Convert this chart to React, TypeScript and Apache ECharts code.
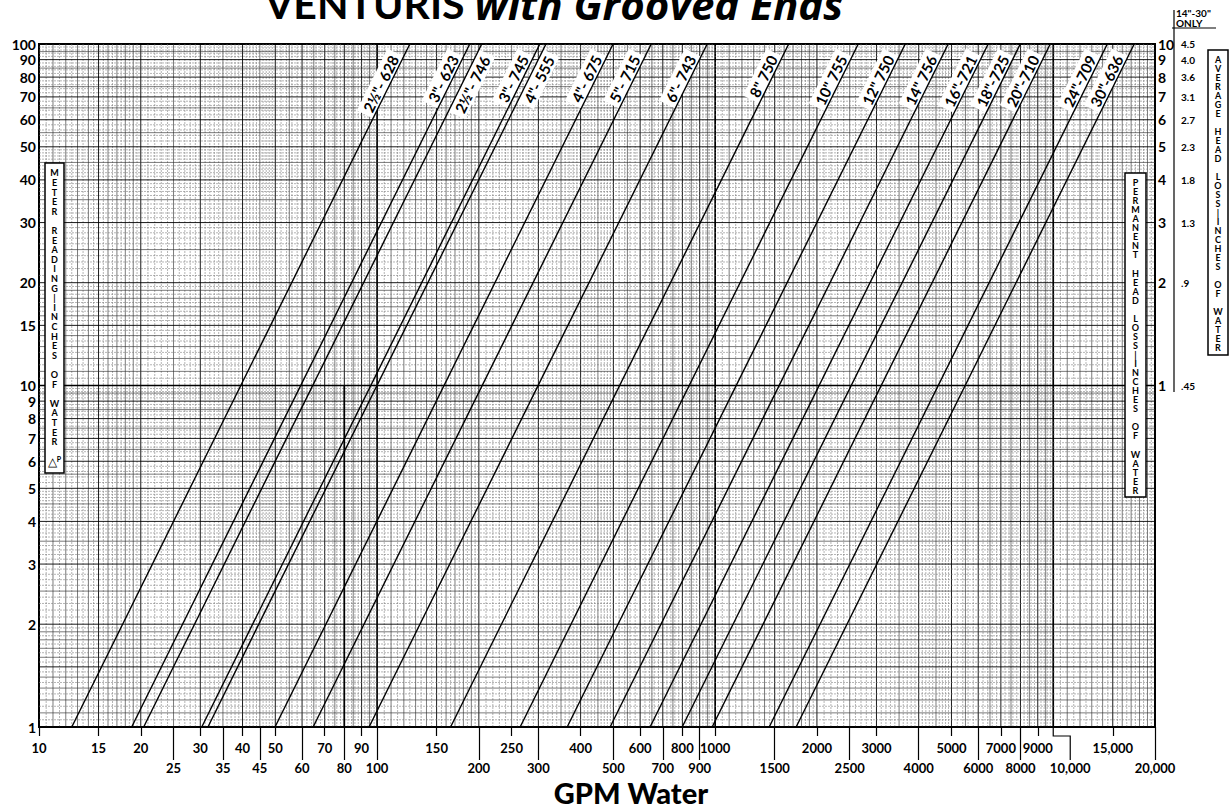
import React, { useEffect, useRef } from "react";
import * as echarts from "echarts";

// ---------- data ----------
const X_MIN = 10;
const X_MAX = 20000;
const Y_MIN = 1;
const Y_MAX = 100;

const sizeLabels = [
  '2½"- 628', '3"- 623', '2½"- 746', '3"- 745', '4"- 555', '4"- 675', '5"- 715', '6"- 743',
  '8" 750', '10" 755', '12" 750', '14" 756', '16"-721', '18"-725', '20"-710', '24"-709', '30"-636',
];
// GPM where each curve meets the 1" (bottom) line
const flowAtBottom = [12.5, 18.8, 20.4, 30.3, 31.6, 49.9, 64.7, 94.7, 165, 265, 365, 489, 642, 799, 980, 1445, 1736];
// GPM where each curve meets the 100" (top) line
const flowAtTop = [125, 188, 204, 303, 316, 499, 647, 947, 1650, 2650, 3650, 4890, 6420, 7990, 9800, 14450, 17360];
const labelSide = ["l", "l", "r", "l", "r", "l", "l", "l", "l", "l", "l", "l", "l", "l", "l", "l", "l"];

const xTicksRow1 = [10, 15, 20, 30, 40, 50, 70, 90, 150, 250, 400, 600, 800, 1000, 2000, 3000, 5000, 7000, 9000, 15000];
const xTicksRow2 = [25, 35, 45, 60, 80, 100, 200, 300, 500, 700, 900, 1500, 2500, 4000, 6000, 8000, 10000, 20000];
const yTicksLeft = [1, 2, 3, 4, 5, 6, 7, 8, 9, 10, 15, 20, 30, 40, 50, 60, 70, 80, 90, 100];
const yTicksRight = [10, 20, 30, 40, 50, 60, 70, 80, 90, 100];
const permanentLoss = ["1", "2", "3", "4", "5", "6", "7", "8", "9", "10"];
const averageLoss14to30 = [".45", ".9", "1.3", "1.8", "2.3", "2.7", "3.1", "3.6", "4.0", "4.5"];

// ---------- log-paper grid ----------
function gridValues(lo: number, hi: number): number[][] {
  const out: number[][] = [];
  for (let b = lo; b < hi - 1e-9; b *= 10) {
    for (let i = 100; i < 1000; i += 5) {
      let level = -1;
      if (i === 100) level = 0;
      else if (i % 100 === 0 || i === 150) level = 1;
      else if (i < 200) level = i % 10 === 0 ? 2 : 3;
      else if (i < 500) level = i % 50 === 0 ? 2 : i % 10 === 0 ? 3 : -1;
      else level = i % 50 === 0 ? 2 : i % 20 === 0 ? 3 : -1;
      const v = (b * i) / 100;
      if (level >= 0 && v <= hi * 1.000001) out.push([v, level]);
    }
  }
  return out;
}

const GRID_STYLES: any[] = [
  { stroke: "#000", lineWidth: 1.7 },
  { stroke: "#000", lineWidth: 0.9 },
  { stroke: "#333", lineWidth: 0.65 },
  { stroke: "#777", lineWidth: 0.55, lineDash: [2, 1] },
];

const FONT = "Lato, 'Open Sans', sans-serif";

function vertical(words: string[]): string {
  return words.map((w) => w.split("").join("\n")).join("\n\n");
}

export default function App() {
  const ref = useRef<HTMLDivElement>(null);

  useEffect(() => {
    if (!ref.current) return;
    const chart = echarts.init(ref.current, null, { renderer: "svg" });

    const gridData: number[][] = [];
    gridValues(X_MIN, X_MAX).forEach(([v, l]) => gridData.push([v, Y_MIN, l, 0]));
    gridValues(Y_MIN, Y_MAX).forEach(([v, l]) => gridData.push([X_MIN, v, l, 1]));
    gridData.push([80, Y_MIN, 0, 2]);

    const lineSeries = sizeLabels.map((name, i) => ({
      type: "line",
      name,
      xAxisIndex: 0,
      yAxisIndex: 0,
      data: [
        [flowAtBottom[i], Y_MIN],
        [flowAtTop[i], Y_MAX],
      ],
      showSymbol: false,
      symbol: "none",
      lineStyle: { color: "#000", width: 1.4 },
      z: 5,
      silent: true,
    }));

    const labelData = sizeLabels.map((_, i) => [flowAtTop[i], Y_MAX, flowAtBottom[i], Y_MIN, i]);

    const axisLabelBase = { color: "#000", fontFamily: FONT, fontWeight: "bold" };

    const option: any = {
      animation: false,
      backgroundColor: "#fff",
      grid: { left: 39, right: 75, top: 44, bottom: 85, show: true, borderColor: "#000", borderWidth: 2, backgroundColor: "transparent" },
      xAxis: [
        {
          type: "log", logBase: 10, min: X_MIN, max: X_MAX, position: "bottom", offset: 0,
          axisLine: { show: true, lineStyle: { color: "#000", width: 2 } },
          axisTick: { show: true, customValues: xTicksRow1, length: 9, lineStyle: { color: "#000", width: 1.2 } },
          axisLabel: { ...axisLabelBase, fontSize: 13, margin: 14, customValues: xTicksRow1, showMinLabel: true, showMaxLabel: true,
            formatter: (v: number) => (v >= 10000 ? v.toLocaleString("en-US") : String(v)) },
          splitLine: { show: false },
          minorTick: { show: false },
        },
        {
          type: "log", logBase: 10, min: X_MIN, max: X_MAX, position: "bottom", offset: 0,
          axisLine: { show: false },
          axisTick: { show: true, customValues: xTicksRow2.filter((v) => v !== 10000), length: 33, lineStyle: { color: "#000", width: 1.2 } },
          axisLabel: { ...axisLabelBase, fontSize: 13, margin: 34, customValues: xTicksRow2, showMinLabel: true, showMaxLabel: true,
            formatter: (v: number) => (v === 10000 ? "{s|10,000}" : v >= 10000 ? v.toLocaleString("en-US") : String(v)),
            rich: { s: { ...axisLabelBase, fontSize: 13, padding: [0, 0, 0, 34] } } },
          splitLine: { show: false },
        },
      ],
      yAxis: [
        {
          type: "log", logBase: 10, min: Y_MIN, max: Y_MAX, position: "left",
          axisLine: { show: true, lineStyle: { color: "#000", width: 2 } },
          axisTick: { show: false },
          axisLabel: { ...axisLabelBase, fontSize: 14, margin: 3, customValues: yTicksLeft, showMinLabel: true, showMaxLabel: true },
          splitLine: { show: false },
        },
        {
          type: "log", logBase: 10, min: Y_MIN, max: Y_MAX, position: "right", offset: 0,
          axisLine: { show: true, lineStyle: { color: "#000", width: 2 } },
          axisTick: { show: false },
          axisLabel: { ...axisLabelBase, fontSize: 14, margin: 3, align: "left", customValues: yTicksRight,
            formatter: (v: number) => permanentLoss[yTicksRight.findIndex((t) => Math.abs(t - v) < 1e-6)] ?? "" },
          splitLine: { show: false },
        },
        {
          type: "log", logBase: 10, min: Y_MIN, max: Y_MAX, position: "right", offset: 22,
          axisLine: { show: false },
          axisTick: { show: false },
          axisLabel: { ...axisLabelBase, fontSize: 10, margin: 4, align: "left", customValues: yTicksRight,
            formatter: (v: number) => averageLoss14to30[yTicksRight.findIndex((t) => Math.abs(t - v) < 1e-6)] ?? "" },
          splitLine: { show: false },
        },
      ],
      series: [
        {
          type: "custom",
          name: "grid",
          xAxisIndex: 0,
          yAxisIndex: 0,
          silent: true,
          z: 1,
          data: gridData,
          encode: { x: 0, y: 1 },
          renderItem: (params: any, api: any) => {
            const v = api.value(0);
            const w = api.value(1);
            const level = api.value(2);
            const dir = api.value(3);
            let p1: number[];
            let p2: number[];
            if (dir === 0) { p1 = api.coord([v, Y_MIN]); p2 = api.coord([v, Y_MAX]); }
            else if (dir === 1) { p1 = api.coord([X_MIN, w]); p2 = api.coord([X_MAX, w]); }
            else { p1 = api.coord([v, Y_MIN]); p2 = api.coord([v, 10]); }
            const st = GRID_STYLES[level];
            return { type: "line", shape: { x1: p1[0], y1: p1[1], x2: p2[0], y2: p2[1] }, style: { ...st, fill: null } };
          },
        },
        {
          type: "custom",
          name: "tick10000",
          xAxisIndex: 0,
          yAxisIndex: 0,
          silent: true,
          z: 2,
          data: [[10000, Y_MIN]],
          renderItem: (params: any, api: any) => {
            const p = api.coord([api.value(0), api.value(1)]);
            return {
              type: "polyline",
              shape: { points: [[p[0], p[1]], [p[0], p[1] + 9], [p[0] + 17, p[1] + 9], [p[0] + 17, p[1] + 33]] },
              style: { stroke: "#000", lineWidth: 1.2, fill: null },
            };
          },
        },
        ...lineSeries,
        {
          type: "custom",
          name: "labels",
          xAxisIndex: 0,
          yAxisIndex: 0,
          silent: true,
          z: 4,
          data: labelData,
          encode: { x: 0, y: 1 },
          renderItem: (params: any, api: any) => {
            const top = api.coord([api.value(0), api.value(1)]);
            const bot = api.coord([api.value(2), api.value(3)]);
            const idx = api.value(4);
            const ang = Math.atan2(bot[1] - top[1], top[0] - bot[0]);
            const left = labelSide[idx] === "l";
            const d = left ? 14 : 6;
            const ax = top[0] - d * Math.cos(ang);
            const ay = top[1] + d * Math.sin(ang);
            return {
              type: "text",
              x: ax,
              y: ay,
              rotation: ang,
              style: {
                text: sizeLabels[idx],
                x: 0,
                y: 0,
                align: "right",
                verticalAlign: left ? "bottom" : "top",
                fill: "#000",
                font: `bold 15px ${FONT}`,
                backgroundColor: "#fff",
                padding: [2, 4, 1, 4],
              },
            };
          },
        },
      ],
      graphic: [
        {
          type: "text", x: 554, y: 24, silent: true,
          style: {
            text: "{a|VENTURIS }{b|with Grooved Ends}", align: "center", verticalAlign: "bottom", fill: "#000",
            rich: {
              a: { fontFamily: "Lato", fontWeight: "bold", fontSize: 41, fill: "#000" },
              b: { fontFamily: "'Open Sans'", fontWeight: "bold", fontStyle: "italic", fontSize: 42, fill: "#000" },
            },
          },
        },
        {
          type: "text", x: 631, y: 807, silent: true,
          style: { text: "GPM Water", align: "center", verticalAlign: "bottom", fill: "#000", font: `900 29px ${FONT}` },
        },
        { type: "text", x: 1176, y: 8, silent: true, style: { text: '14"-30"', fill: "#000", font: `bold 10px ${FONT}`, align: "left", verticalAlign: "top" } },
        { type: "text", x: 1176, y: 18, silent: true, style: { text: "ONLY", fill: "#000", font: `bold 10px ${FONT}`, align: "left", verticalAlign: "top" } },
        { type: "line", silent: true, shape: { x1: 1172, y1: 28, x2: 1216, y2: 28 }, style: { stroke: "#000", lineWidth: 1.2 } },
        { type: "line", silent: true, shape: { x1: 1174, y1: 10, x2: 1174, y2: 392 }, style: { stroke: "#000", lineWidth: 1.2 } },
        // left box
        { type: "rect", silent: true, z: 10, shape: { x: 45, y: 163, width: 19, height: 310 }, style: { fill: "#fff", stroke: "#000", lineWidth: 1.5 } },
        { type: "text", silent: true, z: 11, x: 54.5, y: 168,
          style: { text: vertical(["METER", "READING|INCHES", "OF", "WATER"]), fill: "#000", font: `bold 9px ${FONT}`, align: "center", verticalAlign: "top", lineHeight: 9.6 } },
        { type: "text", silent: true, z: 11, x: 54.5, y: 468,
          style: { text: "{t|△}{p|P}", align: "center", verticalAlign: "bottom", fill: "#000",
            rich: { t: { fontSize: 12, fontFamily: FONT, fill: "#000" }, p: { fontSize: 7, fontWeight: "bold", fontFamily: FONT, fill: "#000", verticalAlign: "top", padding: [0, 0, 6, 0] } } } },
        // permanent head loss box
        { type: "rect", silent: true, z: 10, shape: { x: 1125, y: 173, width: 21, height: 324 }, style: { fill: "#fff", stroke: "#000", lineWidth: 1.5 } },
        { type: "text", silent: true, z: 11, x: 1135.5, y: 178,
          style: { text: vertical(["PERMANENT", "HEAD", "LOSS|INCHES", "OF", "WATER"]), fill: "#000", font: `bold 9px ${FONT}`, align: "center", verticalAlign: "top", lineHeight: 9.05 } },
        // average head loss box
        { type: "rect", silent: true, z: 10, shape: { x: 1208, y: 50, width: 20, height: 305 }, style: { fill: "#fff", stroke: "#000", lineWidth: 1.5 } },
        { type: "text", silent: true, z: 11, x: 1218, y: 55,
          style: { text: vertical(["AVERAGE", "HEAD", "LOSS|INCHES", "OF", "WATER"]), fill: "#000", font: `bold 9px ${FONT}`, align: "center", verticalAlign: "top", lineHeight: 9.0 } },
      ],
    };

    chart.setOption(option);
    return () => chart.dispose();
  }, []);

  return <div ref={ref} style={{ position: "absolute", left: 0, top: 0, width: 1230, height: 812, background: "#fff" }} />;
}
